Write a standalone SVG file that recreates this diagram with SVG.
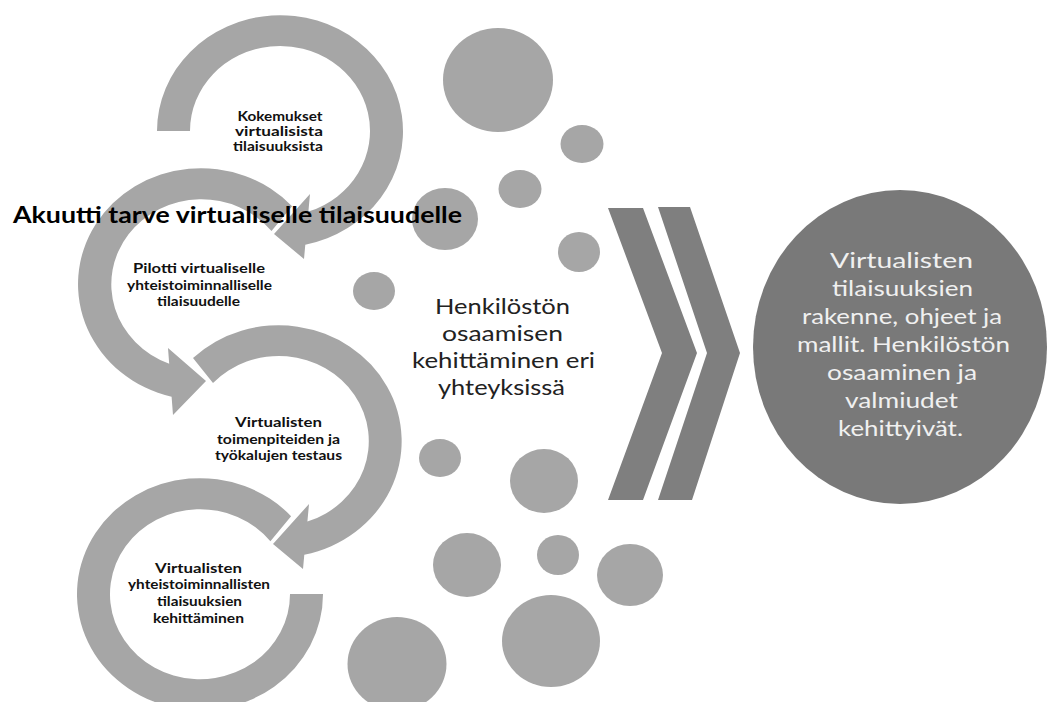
<svg xmlns="http://www.w3.org/2000/svg" width="1048" height="702" viewBox="0 0 1048 702">
<style>
.arc{fill:#a6a6a6}
.dot{fill:#a6a6a6}
.chev{fill:#7f7f7f}
.big{fill:#797979}
.lbl{font-family:Lato,"Liberation Sans",sans-serif;font-weight:700;font-size:12.5px;fill:#111;text-anchor:middle}
.title{font-family:Lato,"Liberation Sans",sans-serif;font-weight:700;font-size:22px;fill:#000}
.mid{font-family:Lato,"Liberation Sans",sans-serif;font-size:22px;fill:#222;text-anchor:middle}
.res{font-family:Lato,"Liberation Sans",sans-serif;font-size:22px;fill:#f0f0f0;text-anchor:middle}
</style>
<rect width="1048" height="702" fill="#fff"/>
<g id="bubbles">
<ellipse class="dot" cx="498" cy="80" rx="55" ry="52"/>
<ellipse class="dot" cx="582" cy="144" rx="21.5" ry="19"/>
<ellipse class="dot" cx="520" cy="189" rx="21.5" ry="19"/>
<ellipse class="dot" cx="445" cy="219" rx="33" ry="31"/>
<ellipse class="dot" cx="579" cy="252" rx="21" ry="20"/>
<ellipse class="dot" cx="374" cy="291" rx="21" ry="19"/>
<ellipse class="dot" cx="440" cy="458" rx="21" ry="19"/>
<ellipse class="dot" cx="544" cy="481" rx="34" ry="32"/>
<ellipse class="dot" cx="467" cy="565" rx="34" ry="32"/>
<ellipse class="dot" cx="558" cy="555" rx="21" ry="20"/>
<ellipse class="dot" cx="630" cy="575" rx="33" ry="31"/>
<ellipse class="dot" cx="397" cy="664" rx="49.5" ry="47"/>
<ellipse class="dot" cx="551" cy="641" rx="49" ry="46"/>
</g>
<g id="step1">
<path class="arc" d="M157,131 A123,116 0 1 1 305.3,244.7 L304,259 L274,234 L310,194 L308.4,211.6 A90,85 0 1 0 190,131 Z"/>
<text class="lbl" x="280" y="121" textLength="85" lengthAdjust="spacingAndGlyphs">Kokemukset</text>
<text class="lbl" x="279" y="136" textLength="88" lengthAdjust="spacingAndGlyphs">virtualisista</text>
<text class="lbl" x="278" y="151" textLength="90" lengthAdjust="spacingAndGlyphs">tilaisuuksista</text>
</g>
<g id="step2">
<path class="arc" d="M292.1,206.2 A123,116 0 1 0 171.6,396.8 L173,415 L206,381 L168,348 L169.2,363.7 A90,85 0 1 1 271.5,231.1 Z"/>
<text class="lbl" x="199" y="273" textLength="132" lengthAdjust="spacingAndGlyphs">Pilotti virtualiselle</text>
<text class="lbl" x="199.5" y="289.5" textLength="145" lengthAdjust="spacingAndGlyphs">yhteistoiminnalliselle</text>
<text class="lbl" x="198.5" y="306" textLength="83" lengthAdjust="spacingAndGlyphs">tilaisuudelle</text>
</g>
<g id="step3">
<path class="arc" d="M193,358 A123,116 0 1 1 304.3,554.7 L303,569 L273,544 L309,504 L307.4,521.6 A90,85 0 1 0 213,383 Z"/>
<text class="lbl" x="278.5" y="427" textLength="87" lengthAdjust="spacingAndGlyphs">Virtualisten</text>
<text class="lbl" x="278.5" y="443.5" textLength="123" lengthAdjust="spacingAndGlyphs">toimenpiteiden  ja</text>
<text class="lbl" x="278.5" y="460" textLength="127" lengthAdjust="spacingAndGlyphs">työkalujen testaus</text>
</g>
<g id="step4">
<path class="arc" d="M291.1,516.2 A123,116 0 1 0 323,594 L290,594 A90,85 0 1 1 270.4,541.2 Z"/>
<text class="lbl" x="198.5" y="573" textLength="87" lengthAdjust="spacingAndGlyphs">Virtualisten</text>
<text class="lbl" x="199" y="589" textLength="142" lengthAdjust="spacingAndGlyphs">yhteistoiminnallisten</text>
<text class="lbl" x="199.5" y="605.5" textLength="85" lengthAdjust="spacingAndGlyphs">tilaisuuksien</text>
<text class="lbl" x="198.5" y="622.5" textLength="91" lengthAdjust="spacingAndGlyphs">kehittäminen</text>
</g>
<g id="title">
<text class="title" x="13" y="223" textLength="449" lengthAdjust="spacingAndGlyphs">Akuutti tarve virtualiselle tilaisuudelle</text>
</g>
<g id="competence">
<text class="mid" x="502.5" y="314" textLength="135" lengthAdjust="spacingAndGlyphs">Henkilöstön</text>
<text class="mid" x="502.5" y="341" textLength="121" lengthAdjust="spacingAndGlyphs">osaamisen</text>
<text class="mid" x="503.5" y="368" textLength="183" lengthAdjust="spacingAndGlyphs">kehittäminen eri</text>
<text class="mid" x="501.5" y="395" textLength="127" lengthAdjust="spacingAndGlyphs">yhteyksissä</text>
</g>
<g id="connectors">
<polygon class="chev" points="608,208 643,208 697,353 643,500 608,500 662,353"/>
<polygon class="chev" points="658,207 690,207 740,353 692,500 658,500 707,353"/>
</g>
<g id="result">
<ellipse class="big" cx="900" cy="347" rx="147" ry="157"/>
<text class="res" x="901.5" y="268" textLength="143" lengthAdjust="spacingAndGlyphs">Virtualisten</text>
<text class="res" x="902.5" y="296" textLength="141" lengthAdjust="spacingAndGlyphs">tilaisuuksien</text>
<text class="res" x="902" y="324" textLength="200" lengthAdjust="spacingAndGlyphs">rakenne, ohjeet ja</text>
<text class="res" x="903.5" y="352" textLength="213" lengthAdjust="spacingAndGlyphs">mallit. Henkilöstön</text>
<text class="res" x="902" y="380" textLength="150" lengthAdjust="spacingAndGlyphs">osaaminen ja</text>
<text class="res" x="901.5" y="408" textLength="113" lengthAdjust="spacingAndGlyphs">valmiudet</text>
<text class="res" x="900.5" y="436" textLength="125" lengthAdjust="spacingAndGlyphs">kehittyivät.</text>
</g>
</svg>
